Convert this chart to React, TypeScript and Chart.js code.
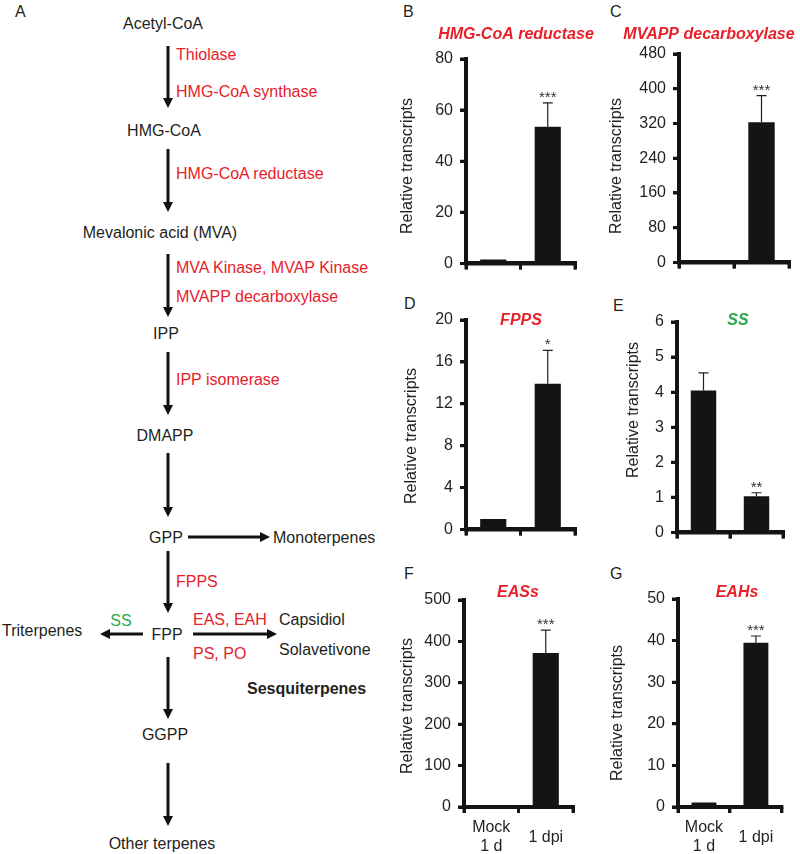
import React, { useEffect, useRef } from "react";
import { Chart, registerables } from "chart.js";
Chart.register(...registerables);

const FONT = '"Liberation Sans", Arial, Helvetica, sans-serif';
const INK = "#231f20";
const RED = "#e8202a";
const GREEN = "#2aa84a";
const BAR = "#141414";

// ---- data ----
const categories = [["Mock", "1 d"], "1 dpi"];

const hmgrValues = [1.5, 53.5];
const hmgrErrors = [0.2, 9.3];
const hmgrSig = ["", "***"];
const hmgrTicks = [0, 20, 40, 60, 80];

const mvappValues = [2, 323];
const mvappErrors = [0.5, 61];
const mvappSig = ["", "***"];
const mvappTicks = [0, 80, 160, 240, 320, 400, 480];

const fppsValues = [1.0, 13.9];
const fppsErrors = [0.1, 3.2];
const fppsSig = ["", "*"];
const fppsTicks = [0, 4, 8, 12, 16, 20];

const ssValues = [4.05, 1.03];
const ssErrors = [0.5, 0.1];
const ssSig = ["", "**"];
const ssTicks = [0, 1, 2, 3, 4, 5, 6];

const easValues = [2, 372];
const easErrors = [0.5, 55];
const easSig = ["", "***"];
const easTicks = [0, 100, 200, 300, 400, 500];

const eahValues = [1.1, 39.5];
const eahErrors = [0.2, 1.6];
const eahSig = ["", "***"];
const eahTicks = [0, 10, 20, 30, 40, 50];

const yAxisTitle = "Relative transcripts";

// ---- layout (page pixel coordinates) ----
const panels = [
  {
    key: "B", values: hmgrValues, errors: hmgrErrors, sig: hmgrSig, ticks: hmgrTicks,
    title: "HMG-CoA reductase", titleColor: RED, showX: false,
    area: { left: 466, right: 575, top: 59, bottom: 265 },
    canvas: { left: 392, top: 20, right: 600, bottom: 280 },
    titlePos: [516, 35], yTitlePos: [408, 166],
  },
  {
    key: "C", values: mvappValues, errors: mvappErrors, sig: mvappSig, ticks: mvappTicks,
    title: "MVAPP decarboxylase", titleColor: RED, showX: false,
    area: { left: 679, right: 789, top: 54, bottom: 265 },
    canvas: { left: 600, top: 20, right: 800, bottom: 279 },
    titlePos: [709, 35], yTitlePos: [617, 166],
  },
  {
    key: "D", values: fppsValues, errors: fppsErrors, sig: fppsSig, ticks: fppsTicks,
    title: "FPPS", titleColor: RED, showX: false,
    area: { left: 466, right: 575, top: 320, bottom: 532 },
    canvas: { left: 392, top: 300, right: 582, bottom: 546 },
    titlePos: [521, 321], yTitlePos: [412, 436],
  },
  {
    key: "E", values: ssValues, errors: ssErrors, sig: ssSig, ticks: ssTicks,
    title: "SS", titleColor: GREEN, showX: false,
    area: { left: 677, right: 783, top: 322, bottom: 535 },
    canvas: { left: 600, top: 300, right: 790, bottom: 549 },
    titlePos: [738, 321], yTitlePos: [634, 410],
  },
  {
    key: "F", values: easValues, errors: easErrors, sig: easSig, ticks: easTicks,
    title: "EASs", titleColor: RED, showX: true,
    area: { left: 464, right: 573, top: 600, bottom: 807 },
    canvas: { left: 392, top: 575, right: 582, bottom: 854 },
    titlePos: [518, 593], yTitlePos: [408, 706],
  },
  {
    key: "G", values: eahValues, errors: eahErrors, sig: eahSig, ticks: eahTicks,
    title: "EAHs", titleColor: RED, showX: true,
    area: { left: 678, right: 783, top: 599, bottom: 807 },
    canvas: { left: 600, top: 575, right: 790, bottom: 854 },
    titlePos: [737, 593], yTitlePos: [618, 713],
  },
];

function BarPanel({ p }: { p: any }) {
  const ref = useRef<HTMLCanvasElement | null>(null);
  const w = p.canvas.right - p.canvas.left;
  const h = p.canvas.bottom - p.canvas.top;

  useEffect(() => {
    if (!ref.current) return;
    const cl = p.canvas.left;
    const ct = p.canvas.top;
    const decor = {
      id: "decor" + p.key,
      afterDatasetsDraw(chart: any) {
        const { ctx } = chart;
        const xs = chart.scales.x;
        const ys = chart.scales.y;
        ctx.save();
        // heavy axes, drawn from the scales' own geometry
        const L = ys.right;
        const B = xs.top;
        ctx.strokeStyle = BAR;
        ctx.lineCap = "butt";
        ctx.lineWidth = 4;
        ctx.beginPath();
        ctx.moveTo(L, ys.top - 1.5);
        ctx.lineTo(L, B + 2);
        ctx.moveTo(L - 2, B);
        ctx.lineTo(xs.right + 1.5, B);
        ctx.stroke();
        ctx.lineWidth = 3;
        ctx.beginPath();
        ys.ticks.forEach((t: any) => {
          const yy = ys.getPixelForValue(t.value);
          ctx.moveTo(L - 6, yy);
          ctx.lineTo(L, yy);
        });
        const n = xs.ticks.length;
        for (let i = 0; i <= n; i++) {
          let xx;
          if (i === 0) xx = xs.left;
          else if (i === n) xx = xs.right;
          else xx = (xs.getPixelForValue(i - 1) + xs.getPixelForValue(i)) / 2;
          ctx.moveTo(xx, B);
          ctx.lineTo(xx, B + 6);
        }
        ctx.stroke();

        // error bars (upper half) and significance marks
        p.values.forEach((v: number, i: number) => {
          const e = p.errors[i];
          const cx = xs.getPixelForValue(i);
          const yTop = ys.getPixelForValue(v);
          const yErr = ys.getPixelForValue(v + e);
          if (yTop - yErr > 1.5) {
            ctx.strokeStyle = INK;
            ctx.lineWidth = 1.2;
            ctx.beginPath();
            ctx.moveTo(cx, yTop);
            ctx.lineTo(cx, yErr);
            ctx.moveTo(cx - 5, yErr);
            ctx.lineTo(cx + 5, yErr);
            ctx.stroke();
          }
          const s = p.sig[i];
          if (s) {
            ctx.fillStyle = "#333";
            ctx.font = `15px ${FONT}`;
            ctx.textAlign = "center";
            ctx.textBaseline = "alphabetic";
            ctx.fillText(s, cx, yErr - 1);
          }
        });
        // gene title
        ctx.fillStyle = p.titleColor;
        ctx.font = `italic bold 16px ${FONT}`;
        ctx.textAlign = "center";
        ctx.textBaseline = "middle";
        ctx.fillText(p.title, p.titlePos[0] - cl, p.titlePos[1] - ct);
        // y axis title
        ctx.translate(p.yTitlePos[0] - cl, p.yTitlePos[1] - ct);
        ctx.rotate(-Math.PI / 2);
        ctx.fillStyle = INK;
        ctx.font = `16px ${FONT}`;
        ctx.fillText(yAxisTitle, 0, 0);
        ctx.restore();
      },
    };

    const gridOpts = {
      display: true,
      drawOnChartArea: false,
      drawTicks: true,
      tickLength: 6,
      lineWidth: 3,
      tickWidth: 3,
      color: BAR,
      tickColor: BAR,
    };

    const yTicks = p.ticks;
    const chart = new Chart(ref.current, {
      type: "bar",
      data: {
        labels: categories,
        datasets: [
          {
            data: p.values,
            backgroundColor: BAR,
            borderWidth: 0,
            barPercentage: 0.48,
            categoryPercentage: 1,
          },
        ],
      },
      options: {
        animation: false,
        responsive: false,
        maintainAspectRatio: false,
        devicePixelRatio: 1,
        layout: {
          padding: {
            top: p.area.top - p.canvas.top,
            right: p.canvas.right - p.area.right,
            bottom: 0,
            left: 0,
          },
        },
        plugins: {
          legend: { display: false },
          tooltip: { enabled: false },
          title: { display: false },
        },
        scales: {
          x: {
            offset: true,
            grid: { ...gridOpts, offset: true },
            border: { display: true, width: 4, color: BAR },
            ticks: {
              display: p.showX,
              font: { family: FONT, size: 16, lineHeight: 1.15 },
              color: INK,
              padding: 15,
              maxRotation: 0,
              minRotation: 0,
              crossAlign: "center",
            },
            afterFit: (s: any) => {
              s.height = p.canvas.bottom - p.area.bottom;
            },
          },
          y: {
            min: yTicks[0],
            max: yTicks[yTicks.length - 1],
            ticks: {
              stepSize: yTicks[1] - yTicks[0],
              font: { family: FONT, size: 16 },
              color: INK,
              padding: 7,
            },
            grid: { ...gridOpts },
            border: { display: true, width: 4, color: BAR },
            afterFit: (s: any) => {
              s.width = p.area.left - p.canvas.left;
            },
          },
        },
      },
      plugins: [decor],
    } as any);
    return () => chart.destroy();
  }, []);

  return (
    <canvas
      ref={ref}
      width={w}
      height={h}
      style={{ position: "absolute", left: p.canvas.left, top: p.canvas.top, width: w, height: h }}
    />
  );
}

function VArrow({ x, y1, y2 }: { x: number; y1: number; y2: number }) {
  return (
    <g>
      <line x1={x} y1={y1} x2={x} y2={y2 - 8} stroke="#111" strokeWidth={3} />
      <polygon points={`${x - 5},${y2 - 10} ${x + 5},${y2 - 10} ${x},${y2}`} fill="#111" />
    </g>
  );
}

function HArrow({ x1, x2, y }: { x1: number; x2: number; y: number }) {
  const dir = x2 > x1 ? 1 : -1;
  return (
    <g>
      <line x1={x1} y1={y} x2={x2 - dir * 8} y2={y} stroke="#111" strokeWidth={3} />
      <polygon
        points={`${x2 - dir * 10},${y - 5} ${x2 - dir * 10},${y + 5} ${x2},${y}`}
        fill="#111"
      />
    </g>
  );
}

function T({ x, y, c = INK, a = "start", b = false, children }: any) {
  return (
    <text
      x={x}
      y={y}
      fill={c}
      textAnchor={a}
      dominantBaseline="central"
      fontFamily={FONT}
      fontSize={16}
      fontWeight={b ? "bold" : "normal"}
    >
      {children}
    </text>
  );
}

function Pathway() {
  return (
    <svg
      width={800}
      height={854}
      style={{ position: "absolute", left: 0, top: 0 }}
    >
      <T x={15} y={11}>A</T>
      <T x={403} y={11}>B</T>
      <T x={610} y={11}>C</T>
      <T x={404} y={303}>D</T>
      <T x={613} y={305}>E</T>
      <T x={404} y={573}>F</T>
      <T x={610} y={573}>G</T>

      <T x={163} y={23} a="middle">Acetyl-CoA</T>
      <VArrow x={168} y1={46} y2={108} />
      <T x={176} y={54} c={RED}>Thiolase</T>
      <T x={176} y={91} c={RED}>HMG-CoA synthase</T>

      <T x={164} y={130} a="middle">HMG-CoA</T>
      <VArrow x={168} y1={149} y2={212} />
      <T x={176} y={173} c={RED}>HMG-CoA reductase</T>

      <T x={160} y={232} a="middle">Mevalonic acid (MVA)</T>
      <VArrow x={168} y1={254} y2={317} />
      <T x={176} y={267} c={RED}>MVA Kinase, MVAP Kinase</T>
      <T x={176} y={296} c={RED}>MVAPP decarboxylase</T>

      <T x={166} y={333} a="middle">IPP</T>
      <VArrow x={168} y1={352} y2={415} />
      <T x={176} y={379} c={RED}>IPP isomerase</T>

      <T x={165} y={435} a="middle">DMAPP</T>
      <VArrow x={168} y1={453} y2={517} />

      <T x={166} y={537} a="middle">GPP</T>
      <HArrow x1={188} x2={270} y={537} />
      <T x={273} y={537}>Monoterpenes</T>
      <VArrow x={168} y1={551} y2={613} />
      <T x={176} y={581} c={RED}>FPPS</T>

      <T x={167} y={634} a="middle">FPP</T>
      <T x={121} y={620} a="middle" c={GREEN}>SS</T>
      <HArrow x1={143} x2={100} y={634} />
      <T x={2} y={630}>Triterpenes</T>
      <HArrow x1={193} x2={277} y={634} />
      <T x={193} y={619} c={RED}>EAS, EAH</T>
      <T x={193} y={653} c={RED}>PS, PO</T>
      <T x={279} y={619}>Capsidiol</T>
      <T x={279} y={649}>Solavetivone</T>
      <T x={247} y={688} b>Sesquiterpenes</T>

      <VArrow x={168} y1={657} y2={719} />
      <T x={165} y={734} a="middle">GGPP</T>
      <VArrow x={168} y1={763} y2={826} />
      <T x={162} y={843} a="middle">Other terpenes</T>
    </svg>
  );
}

export default function App() {
  return (
    <div
      style={{
        position: "absolute",
        left: 0,
        top: 0,
        width: 800,
        height: 854,
        background: "#ffffff",
        overflow: "hidden",
      }}
    >
      <Pathway />
      {panels.map((p) => (
        <BarPanel key={p.key} p={p} />
      ))}
    </div>
  );
}
